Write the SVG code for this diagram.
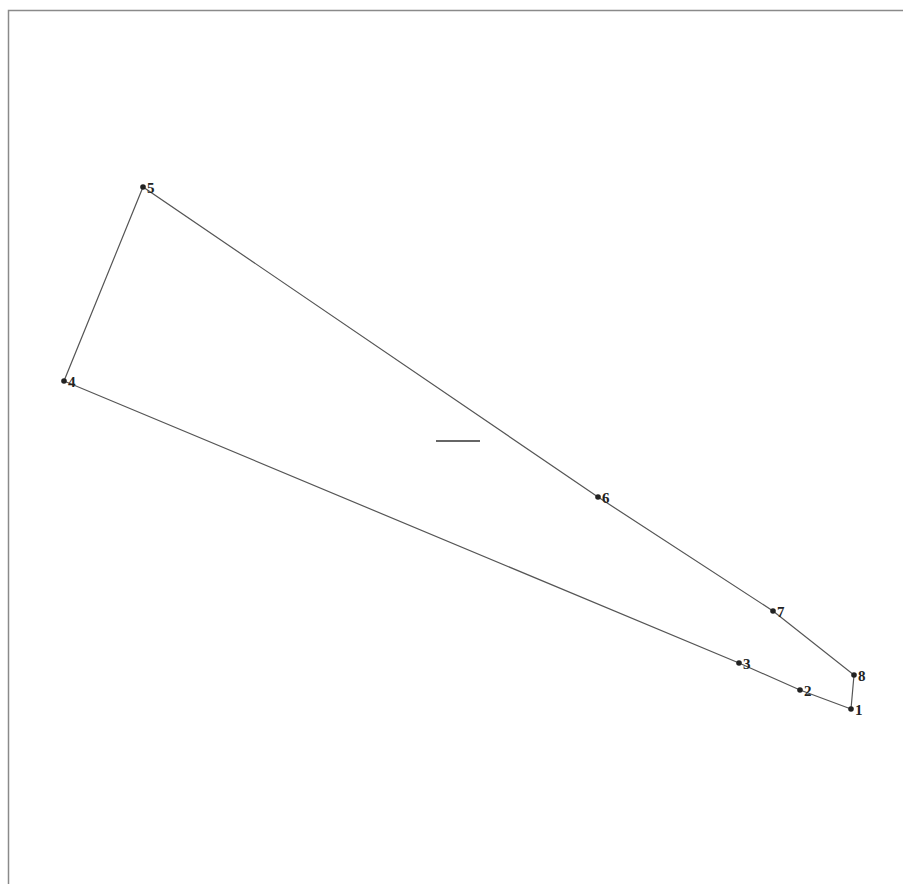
<svg xmlns="http://www.w3.org/2000/svg" width="903" height="884" viewBox="0 0 903 884">
<style>
.frame{fill:none;stroke:#8a8a8a;stroke-width:1.5}
.edge{fill:none;stroke:#555;stroke-width:1.2}
.dot{fill:#222}
.lbl{font-family:"Liberation Serif",serif;font-weight:bold;font-size:15px;fill:#222}
</style>
<rect width="903" height="884" fill="#fff"/>
<rect class="frame" x="8.5" y="10.5" width="900" height="880"/>
<g id="connectors">
<polygon class="edge" points="851,709 800,690 739,663 64,381 143,187 598,497 773,611 854,675"/>
<line x1="436" y1="441" x2="480" y2="441" stroke="#333" stroke-width="1.5"/>
</g>
<g id="n1"><circle class="dot" cx="851" cy="709" r="2.8"/><text class="lbl" x="855" y="715">1</text></g>
<g id="n2"><circle class="dot" cx="800" cy="690" r="2.8"/><text class="lbl" x="804" y="696">2</text></g>
<g id="n3"><circle class="dot" cx="739" cy="663" r="2.8"/><text class="lbl" x="743" y="669">3</text></g>
<g id="n4"><circle class="dot" cx="64" cy="381" r="2.8"/><text class="lbl" x="68" y="387">4</text></g>
<g id="n5"><circle class="dot" cx="143" cy="187" r="2.8"/><text class="lbl" x="147" y="193">5</text></g>
<g id="n6"><circle class="dot" cx="598" cy="497" r="2.8"/><text class="lbl" x="602" y="503">6</text></g>
<g id="n7"><circle class="dot" cx="773" cy="611" r="2.8"/><text class="lbl" x="777" y="617">7</text></g>
<g id="n8"><circle class="dot" cx="854" cy="675" r="2.8"/><text class="lbl" x="858" y="681">8</text></g>
</svg>
